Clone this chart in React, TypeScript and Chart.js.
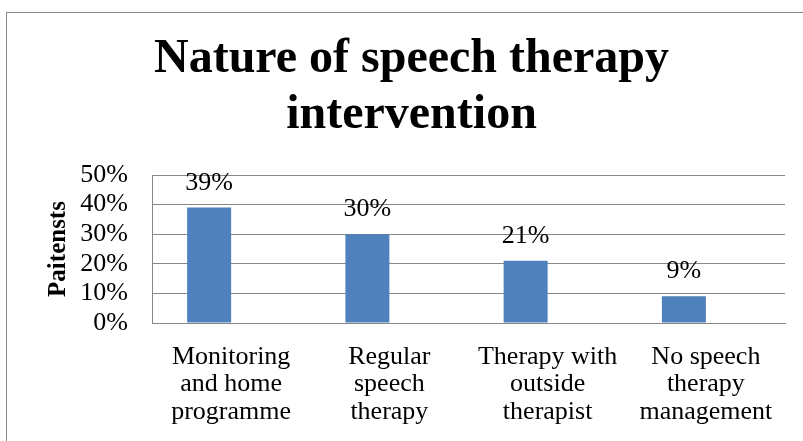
import React, { useEffect, useRef } from "react";
import { Chart, registerables } from "chart.js";

Chart.register(...registerables);

const titleLines = ["Nature of speech therapy", "intervention"];
const yAxisTitle = "Paitensts";
const categories = [
  ["Monitoring", "and home", "programme"],
  ["Regular", "speech", "therapy"],
  ["Therapy with", "outside", "therapist"],
  ["No speech", "therapy", "management"],
];
const patientShare = [0.39, 0.3, 0.21, 0.09];
const emptySeries = [null, null, null, null];
const yTickLabels = ["0%", "10%", "20%", "30%", "40%", "50%"];

const SERIF = '"Liberation Serif", "Times New Roman", serif';
const GRID = "#868686";
const BAR = "#4F81BD";

const frame = {
  id: "frame",
  beforeDraw(chart: any) {
    const ctx = chart.ctx;
    ctx.save();
    ctx.fillStyle = "#ffffff";
    ctx.fillRect(0, 0, chart.width, chart.height);
    ctx.strokeStyle = GRID;
    ctx.lineWidth = 1;
    ctx.strokeRect(6.5, 12.5, chart.width, chart.height);
    ctx.restore();
  },
};

const valueLabels = {
  id: "valueLabels",
  afterDatasetsDraw(chart: any) {
    const ctx = chart.ctx;
    const meta = chart.getDatasetMeta(0);
    ctx.save();
    ctx.font = `26px ${SERIF}`;
    ctx.fillStyle = "#000000";
    ctx.textAlign = "center";
    ctx.textBaseline = "alphabetic";
    meta.data.forEach((bar: any, i: number) => {
      const v = patientShare[i];
      ctx.fillText(`${Math.round(v * 100)}%`, bar.x, bar.y - 18);
    });
    ctx.restore();
  },
};

export default function App() {
  const ref = useRef<HTMLCanvasElement>(null);
  useEffect(() => {
    if (!ref.current) return;
    const chart = new Chart(ref.current, {
      type: "bar",
      data: {
        labels: categories as any,
        datasets: [
          {
            data: patientShare,
            backgroundColor: BAR,
            categoryPercentage: 0.556,
            barPercentage: 1,
          },
          {
            data: emptySeries as any,
            backgroundColor: "#C0504D",
            categoryPercentage: 0.556,
            barPercentage: 1,
          },
        ],
      },
      options: {
        animation: false,
        responsive: false,
        devicePixelRatio: 1,
        layout: { padding: { left: 38, right: 18, top: 0, bottom: 0 } },
        plugins: {
          legend: { display: false },
          tooltip: { enabled: false },
          title: {
            display: true,
            text: titleLines,
            color: "#000000",
            font: { family: SERIF, size: 48, weight: "bold", lineHeight: "56px" } as any,
            padding: { top: 32, bottom: 31 },
          },
        },
        scales: {
          x: {
            grid: { display: false, drawTicks: false },
            border: { display: true, color: GRID, width: 1 },
            ticks: {
              color: "#000000",
              autoSkip: false,
              maxRotation: 0,
              minRotation: 0,
              padding: 20,
              font: { family: SERIF, size: 26, lineHeight: "27.5px" } as any,
            },
            afterFit(scale: any) {
              scale.height = 118;
            },
          },
          y: {
            min: 0,
            max: 0.5,
            ticks: {
              stepSize: 0.1,
              autoSkip: false,
              color: "#000000",
              padding: 24,
              font: { family: SERIF, size: 26 },
              callback: (_v: any, i: number) => yTickLabels[i],
            },
            grid: { color: GRID, lineWidth: 1, drawTicks: false },
            border: { display: true, color: GRID, width: 1 },
            title: {
              display: true,
              text: yAxisTitle,
              color: "#000000",
              font: { family: SERIF, size: 25, weight: "bold" },
              padding: { top: 6, bottom: 0 },
            },
            afterFit(scale: any) {
              scale.width = 114;
            },
          },
        },
      },
      plugins: [frame, valueLabels],
    });
    return () => chart.destroy();
  }, []);
  return (
    <div style={{ position: "fixed", left: 0, top: 0, width: 803, height: 441, background: "#fff" }}>
      <canvas ref={ref} width={803} height={441} style={{ display: "block" }} />
    </div>
  );
}
